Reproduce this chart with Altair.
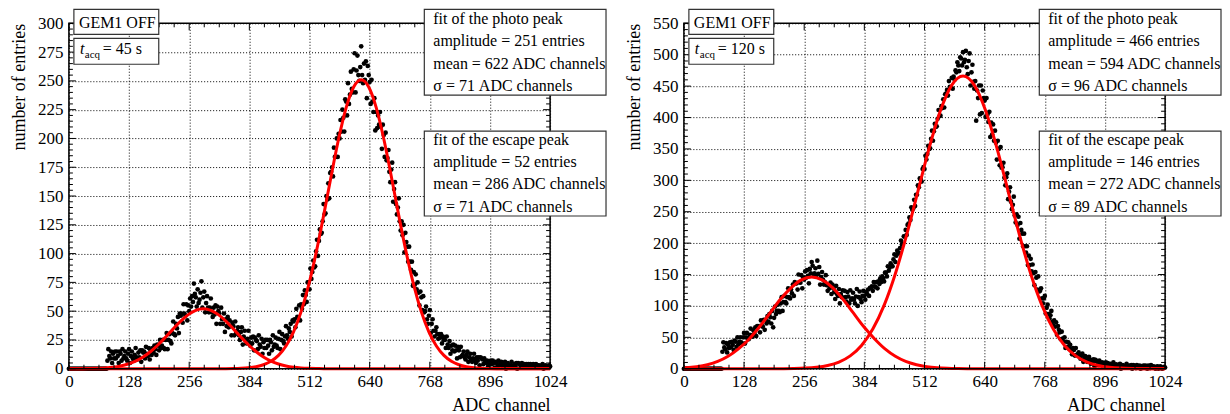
import altair as alt
import pandas as pd

# ---------------- data ----------------
CHANNELS = list(range(0, 1025, 2))

left_counts = [
    0, 0, 0, 0, 0, 0, 0, 0, 0, 0,
    0, 0, 0, 0, 0, 0, 0, 0, 0, 0,
    0, 0, 0, 0, 0, 0, 0, 0, 0, 0,
    0, 0, 0, 0, 0, 0, 0, 0, 0, 0,
    0, 7, 17, 11, 9, 15, 5, 13, 9, 15,            # 80
    9, 15, 11, 5, 15, 13, 7, 17, 9, 11,           # 100
    15, 9, 7, 13, 17, 5, 11, 15, 9, 7,            # 120
    12, 18, 10, 8, 14, 10, 16, 6, 16, 14,         # 140
    15, 9, 19, 13, 11, 18, 8, 16, 12, 18,         # 160
    14, 20, 17, 12, 21, 20, 16, 25, 18, 20,       # 180
    25, 18, 17, 25, 31, 17, 25, 30, 24, 22,       # 200
    31, 41, 30, 29, 39, 35, 45, 31, 48, 46,       # 220
    48, 40, 56, 48, 46, 56, 42, 55, 50, 61,       # 240
    54, 63, 58, 74, 65, 62, 54, 69, 57, 60,       # 260
    66, 76, 53, 62, 67, 49, 57, 63, 53, 49,       # 280
    53, 61, 49, 45, 53, 47, 55, 39, 54, 50,       # 300
    48, 39, 53, 43, 39, 48, 32, 43, 37, 45,       # 320
    36, 42, 37, 29, 40, 37, 29, 41, 31, 33,       # 340
    36, 29, 25, 32, 36, 21, 28, 33, 25, 22,       # 360
    26, 33, 23, 20, 27, 22, 28, 16, 27, 25,       # 380
    24, 17, 29, 21, 19, 26, 13, 23, 18, 25,       # 400
    18, 25, 20, 13, 25, 23, 16, 29, 19, 21,       # 420
    27, 20, 18, 26, 32, 17, 25, 30, 24, 22,       # 440
    28, 37, 29, 26, 35, 32, 39, 28, 42, 41,       # 460
    43, 36, 52, 45, 44, 55, 42, 56, 52, 64,       # 480
    56, 68, 64, 58, 75, 75, 69, 87, 78, 84,       # 500
    94, 88, 89, 102, 112, 98, 111, 121, 117, 118, # 520
    128, 143, 134, 135, 150, 147, 161, 148, 170, 171,  # 540
    175, 167, 192, 184, 184, 200, 184, 204, 200, 216,  # 560
    206, 225, 218, 206, 234, 232, 220, 248, 230, 238,  # 580
    258, 243, 240, 260, 274, 240, 259, 272, 255, 250,  # 600
    262, 280, 255, 248, 265, 251, 267, 235, 263, 255,  # 620
    249, 230, 251, 232, 223, 235, 207, 223, 209, 220,  # 640
    212, 223, 210, 191, 212, 203, 184, 205, 181, 183,  # 660
    190, 171, 162, 173, 179, 145, 156, 162, 143, 134,  # 680
    140, 148, 128, 120, 128, 116, 125, 101, 118, 110,  # 700
    106, 93, 106, 93, 86, 93, 72, 84, 73, 82,     # 720
    69, 75, 66, 55, 67, 62, 51, 63, 49, 50,       # 740
    54, 43, 39, 46, 51, 31, 39, 43, 33, 28,       # 760
    33, 36, 30, 26, 30, 27, 30, 22, 28, 25,       # 780
    25, 18, 28, 21, 18, 24, 13, 20, 16, 21,       # 800
    15, 20, 16, 9, 19, 16, 10, 19, 11, 12,        # 820
    15, 10, 8, 12, 15, 6, 10, 13, 8, 6,           # 840
    9, 13, 7, 5, 10, 7, 10, 3, 10, 9,             # 860
    8, 4, 9, 6, 5, 7, 2, 6, 4, 7,                 # 880
    4, 7, 5, 1, 6, 5, 2, 7, 3, 4,                 # 900
    6, 3, 2, 5, 6, 0, 3, 5, 2, 1,                 # 920
    3, 6, 2, 1, 4, 2, 5, 0, 5, 4,                 # 940
    4, 2, 5, 3, 2, 4, 1, 4, 2, 4,                 # 960
    2, 4, 3, 1, 4, 3, 1, 4, 2, 3,                 # 980
    3, 1, 1, 3, 4, 0, 2, 3, 1, 1,                 # 1000
    2, 3, 2,                                      # 1020
]

right_counts = [
    0, 0, 0, 0, 0, 0, 0, 0, 0, 0,
    0, 0, 0, 0, 0, 0, 0, 0, 0, 0,
    0, 0, 0, 0, 0, 0, 0, 0, 0, 0,
    0, 0, 0, 0, 0, 0, 0, 0, 0, 0,
    0, 27, 42, 34, 31, 41, 26, 38, 33, 42,        # 80
    34, 43, 38, 30, 45, 43, 35, 50, 39, 43,       # 100
    50, 42, 40, 50, 57, 40, 50, 57, 49, 47,       # 120
    54, 64, 53, 51, 61, 56, 66, 52, 68, 66,       # 140
    68, 58, 77, 68, 67, 78, 62, 78, 72, 84,       # 160
    75, 87, 82, 72, 92, 66, 81, 99, 87, 92,       # 180
    102, 92, 90, 104, 114, 92, 106, 116, 106, 104,     # 200
    114, 128, 114, 112, 126, 120, 134, 116, 138, 136,  # 220
    136, 126, 150, 138, 137, 149, 128, 145, 142, 155,  # 240
    145, 157, 148, 136, 159, 152, 170, 164, 150, 152,  # 260
    160, 149, 172, 151, 162, 134, 146, 154, 142, 134,  # 280
    138, 149, 133, 124, 133, 128, 137, 119, 134, 128,  # 300
    122, 111, 132, 119, 116, 127, 104, 119, 114, 125,  # 320
    113, 124, 114, 107, 122, 115, 104, 125, 110, 112,  # 340
    121, 110, 104, 115, 127, 100, 114, 123, 111, 106,  # 360
    116, 124, 116, 110, 122, 119, 126, 116, 129, 128,  # 380
    131, 124, 138, 131, 130, 138, 128, 139, 135, 144,  # 400
    138, 147, 144, 139, 153, 153, 147, 163, 156, 161,  # 420
    168, 164, 163, 174, 182, 170, 180, 188, 184, 184,  # 440
    192, 204, 198, 199, 211, 210, 221, 213, 229, 231,  # 460
    241, 237, 257, 253, 255, 269, 259, 277, 277, 292,  # 480
    289, 303, 302, 298, 318, 321, 318, 339, 333, 342,  # 500
    355, 350, 351, 366, 379, 363, 378, 390, 385, 386,  # 520
    398, 412, 402, 403, 418, 415, 429, 416, 437, 438,  # 540
    444, 435, 458, 449, 448, 463, 446, 465, 460, 475,  # 560
    472, 488, 483, 474, 496, 494, 483, 504, 488, 492,  # 580
    506, 480, 469, 490, 502, 451, 472, 484, 457, 446,  # 600
    458, 395, 443, 431, 451, 405, 451, 407, 443, 431,  # 620
    427, 401, 431, 405, 393, 409, 369, 392, 373, 389,  # 640
    363, 379, 360, 333, 363, 350, 324, 353, 320, 321,  # 660
    328, 304, 292, 305, 311, 270, 282, 289, 266, 254,  # 680
    261, 274, 244, 233, 246, 229, 242, 207, 232, 221,  # 700
    215, 195, 215, 195, 185, 195, 165, 180, 165, 175,  # 720
    155, 166, 152, 133, 154, 145, 126, 147, 123, 124,  # 740
    128, 112, 104, 112, 116, 88, 97, 102, 87, 80,      # 760
    85, 92, 75, 69, 77, 67, 74, 54, 68, 62,            # 780
    58, 47, 59, 48, 43, 50, 33, 43, 35, 42,            # 800
    32, 38, 31, 23, 33, 30, 21, 33, 22, 23,            # 820
    26, 19, 16, 21, 24, 11, 16, 20, 13, 11,            # 840
    14, 19, 11, 8, 14, 9, 15, 4, 14, 12,               # 860
    11, 6, 13, 8, 7, 10, 3, 9, 6, 10,                  # 880
    5, 9, 6, 2, 8, 7, 2, 10, 4, 5,                     # 900
    7, 4, 3, 6, 8, 0, 4, 6, 3, 2,                      # 920
    4, 8, 3, 2, 5, 3, 6, 0, 6, 5,                      # 940
    4, 1, 6, 3, 2, 5, 0, 4, 2, 5,                      # 960
    2, 5, 3, 0, 5, 4, 1, 6, 2, 3,                      # 980
    4, 1, 0, 3, 4, 0, 2, 4, 1, 0,                      # 1000
    2, 3, 2,                                           # 1020
]

# fit curves
left_photo_x = [0, 300, 334, 350, 366, 382, 398, 414, 430, 446, 462, 478, 494, 510, 526, 542,
                558, 574, 590, 606, 622, 638, 654, 670, 686, 702, 718, 734, 750, 766, 782,
                798, 814, 830, 846, 862, 878, 894, 910, 1024]
left_photo_y = [0, 0.01, 0.07, 0.16, 0.38, 0.83, 1.73, 3.44, 6.48, 11.6, 19.8, 32.1, 49.4, 72.3, 100.6, 133.0,
                167.2, 199.7, 226.8, 244.7, 251.0, 244.7, 226.8, 199.7, 167.2, 133.0, 100.6, 72.3, 49.4, 32.1, 19.8,
                11.6, 6.48, 3.44, 1.73, 0.83, 0.38, 0.16, 0.07, 0]

left_esc_x = [0, 14, 30, 46, 62, 78, 94, 110, 126, 142, 158, 174, 190, 206, 222, 238, 254, 270,
              286, 302, 318, 334, 350, 366, 382, 398, 414, 430, 446, 462, 478, 494, 510, 526,
              542, 558, 600, 1024]
left_esc_y = [0.02, 0.03, 0.08, 0.17, 0.36, 0.71, 1.34, 2.41, 4.10, 6.65, 10.24, 14.99, 20.85, 27.56, 34.64,
              41.38, 46.98, 50.69, 52.0, 50.69, 46.98, 41.38, 34.64, 27.56, 20.85, 14.99, 10.24, 6.65,
              4.10, 2.41, 1.34, 0.71, 0.36, 0.17, 0.08, 0.03, 0.01, 0]

right_photo_x = [0, 160, 186, 210, 234, 258, 282, 306, 330, 354, 378, 402, 426, 450, 474, 498, 522, 546,
                 570, 594, 618, 642, 666, 690, 714, 738, 762, 786, 810, 834, 858, 882, 906, 930,
                 954, 978, 1002, 1024]
right_photo_y = [0, 0.01, 0.055, 0.16, 0.41, 1.03, 2.38, 5.17, 10.6, 20.5, 37.1, 63.1, 100.8, 151.3, 213.3,
                 282.6, 351.7, 411.2, 451.6, 466.0, 451.6, 411.2, 351.7, 282.6, 213.3, 151.3, 100.8,
                 63.1, 37.1, 20.5, 10.6, 5.17, 2.38, 1.03, 0.41, 0.16, 0.055, 0.02]

right_esc_x = [0, 5, 27, 50, 72, 94, 116, 139, 161, 183, 205, 228, 250, 272, 294, 317, 339, 361, 383,
               406, 428, 450, 472, 495, 517, 539, 561, 584, 606, 650, 1024]
right_esc_y = [1.37, 1.6, 3.3, 6.4, 11.6, 19.8, 31.6, 47.4, 66.8, 88.5, 110.2, 128.8, 141.5, 146.0, 141.5,
               128.8, 110.2, 88.5, 66.8, 47.4, 31.6, 19.8, 11.6, 6.4, 3.3, 1.6, 0.74, 0.32, 0.13, 0.02, 0]

X_MAJOR = [0, 128, 256, 384, 512, 640, 768, 896, 1024]
X_MINOR = [v for v in range(0, 1025, 32) if v % 128]

left_y_major = list(range(0, 301, 25))
left_y_minor = [v for v in range(0, 301, 5) if v % 25]
right_y_major = list(range(0, 551, 50))
right_y_minor = [v for v in range(0, 551, 10) if v % 50]

left_photo_text = ["fit of the photo peak", "amplitude = 251 entries",
                   "mean = 622 ADC channels", "σ = 71 ADC channels"]
left_esc_text = ["fit of the escape peak", "amplitude = 52 entries",
                 "mean = 286 ADC channels", "σ = 71 ADC channels"]
right_photo_text = ["fit of the photo peak", "amplitude = 466 entries",
                    "mean = 594 ADC channels", "σ = 96 ADC channels"]
right_esc_text = ["fit of the escape peak", "amplitude = 146 entries",
                  "mean = 272 ADC channels", "σ = 89 ADC channels"]

W, H = 482, 346
FONT = "Liberation Serif, Times New Roman, serif"


def text_layer(s, x, y, size=16, style="normal"):
    return alt.Chart(pd.DataFrame({"t": [s]})).mark_text(
        align="left", baseline="alphabetic", fontSize=size, font=FONT,
        fontStyle=style, color="black"
    ).encode(x=alt.value(x), y=alt.value(y), text="t:N")


def box_layer(x0, x1, y0, y1):
    return alt.Chart(pd.DataFrame({"k": [0]})).mark_rect(
        fill="white", stroke="#333333", strokeWidth=1.2
    ).encode(x=alt.value(x0), x2=alt.value(x1), y=alt.value(y0), y2=alt.value(y1))


def panel(counts, curves, ymax, ymaj, ymin, tacq, photo_text, esc_text):
    xs = alt.Scale(domain=[0, 1024], nice=False, zero=False)
    ys = alt.Scale(domain=[0, ymax], nice=False)
    xaxis = alt.Axis(values=X_MAJOR, title="ADC channel", titleAnchor="end", format="d",
                     labelFlush=False, labelOverlap=False, grid=True, labelPadding=5,
                     titlePadding=7)
    yaxis = alt.Axis(values=ymaj, title="number of entries", titleAnchor="end", format="d",
                     labelFlush=False, labelOverlap=False, grid=True, labelPadding=6,
                     titlePadding=9)

    def X(f):
        return alt.X(f, type="quantitative", scale=xs, axis=xaxis)

    def Y(f):
        return alt.Y(f, type="quantitative", scale=ys, axis=yaxis)

    layers = []
    layers.append(alt.Chart(pd.DataFrame({"ch": CHANNELS, "n": counts})).mark_circle(
        size=22, color="black", opacity=1).encode(x=X("ch"), y=Y("n")))
    for cx, cy in curves:
        layers.append(alt.Chart(pd.DataFrame({"ch": cx, "n": cy})).mark_line(
            color="#ff0000", strokeWidth=3, interpolate="monotone").encode(x=X("ch"), y=Y("n")))
    layers.append(alt.Chart(pd.DataFrame({"k": [0]})).mark_rect(
        fill="white", fillOpacity=0, stroke="black", strokeWidth=1.5
    ).encode(x=alt.value(0), x2=alt.value(W), y=alt.value(0), y2=alt.value(H)))
    # ticks (inward)
    xmaj = pd.DataFrame({"v": X_MAJOR})
    xmin = pd.DataFrame({"v": X_MINOR})
    ymj = pd.DataFrame({"v": ymaj})
    ymn = pd.DataFrame({"v": ymin})
    for df, ln in ((xmaj, 7), (xmin, 4)):
        layers.append(alt.Chart(df).mark_rule(color="black", strokeWidth=1).encode(
            x=X("v"), y=alt.value(H), y2=alt.value(H - ln)))
        layers.append(alt.Chart(df).mark_rule(color="black", strokeWidth=1).encode(
            x=X("v"), y=alt.value(0), y2=alt.value(ln)))
    for df, ln in ((ymj, 7), (ymn, 4)):
        layers.append(alt.Chart(df).mark_rule(color="black", strokeWidth=1).encode(
            y=Y("v"), x=alt.value(0), x2=alt.value(ln)))
        layers.append(alt.Chart(df).mark_rule(color="black", strokeWidth=1).encode(
            y=Y("v"), x=alt.value(W), x2=alt.value(W - ln)))
    # legend boxes
    layers.append(box_layer(5, 90, -14, 11))
    layers.append(text_layer("GEM1 OFF", 10, 5))
    layers.append(box_layer(5, 90, 15, 41))
    layers.append(text_layer("t", 11, 31, 16, "italic"))
    layers.append(text_layer("acq", 16, 35, 11))
    layers.append(text_layer(tacq, 34, 31))
    layers.append(box_layer(356, 538, -14, 72))
    for i, s in enumerate(photo_text):
        layers.append(text_layer(s, 365, 1 + 22.2 * i))
    layers.append(box_layer(356, 538, 108, 193))
    for i, s in enumerate(esc_text):
        layers.append(text_layer(s, 365, 122 + 22.2 * i))
    return alt.layer(*layers).properties(width=W, height=H)


left = panel(left_counts, [(left_esc_x, left_esc_y), (left_photo_x, left_photo_y)],
             300, left_y_major, left_y_minor, "= 45 s", left_photo_text, left_esc_text)
right = panel(right_counts, [(right_esc_x, right_esc_y), (right_photo_x, right_photo_y)],
              550, right_y_major, right_y_minor, "= 120 s", right_photo_text, right_esc_text)

chart = alt.hconcat(left, right, spacing=134, bounds="flush").properties(
    padding={"left": 2, "top": 0, "right": 0, "bottom": 0}
).configure(font=FONT).configure_axis(
    labelFont=FONT, titleFont=FONT, labelFontSize=17, titleFontSize=18,
    titleFontWeight="normal", labelColor="black", titleColor="black",
    gridColor="black", gridDash=[1, 2], gridOpacity=1, gridWidth=1,
    domain=False, ticks=False, tickSize=0
).configure_view(stroke=None)

chart.save("out.html", embed_options={"renderer": "svg", "actions": False})
